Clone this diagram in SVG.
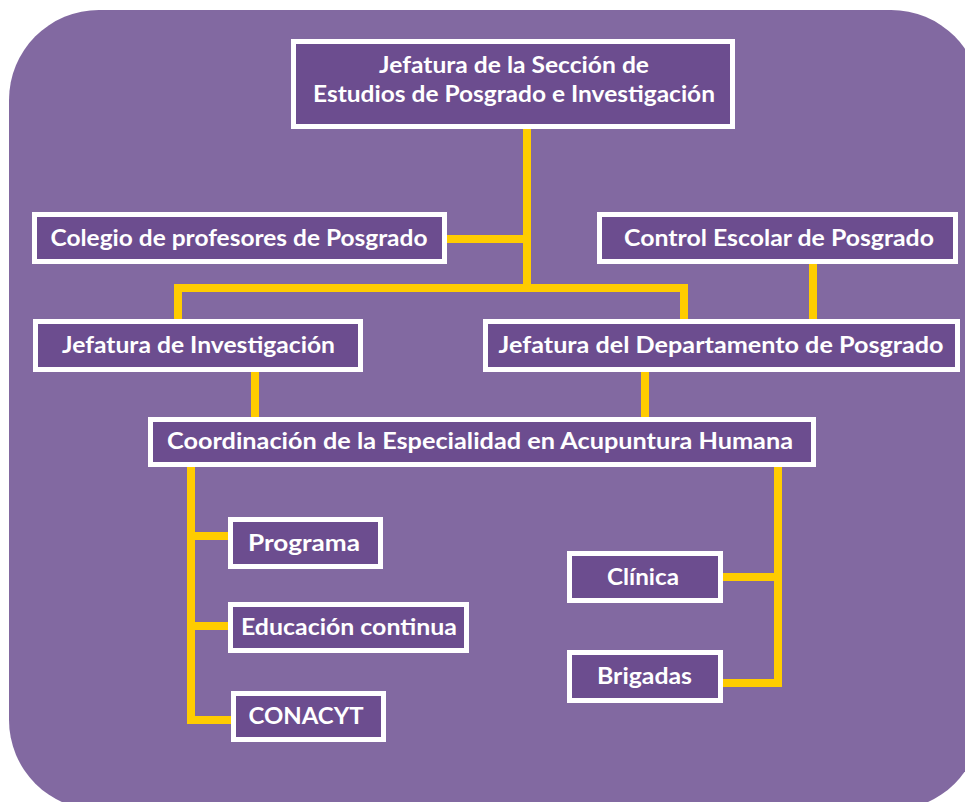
<svg xmlns="http://www.w3.org/2000/svg" width="965" height="802" viewBox="0 0 965 802">
  <style>
    .bg { fill: #8269A1; }
    .box rect { fill: #6C4D8F; stroke: #FFFFFF; stroke-width: 5; }
    .box text { fill: #FFFFFF; font-family: Lato, "Open Sans", "Liberation Sans", sans-serif; font-weight: 700; font-size: 22px; text-anchor: middle; }
    .links path { fill: none; stroke: #FFCC00; stroke-width: 8; stroke-linejoin: miter; stroke-linecap: butt; }
  </style>
  <rect width="965" height="802" fill="#FFFFFF"/>
  <rect class="bg" x="9" y="10" width="972" height="800" rx="90" ry="90"/>

  <g class="links" id="connectors">
    <path d="M527,129 V292"/>
    <path d="M447,239 H531"/>
    <path d="M178,321 V288 H684 V321"/>
    <path d="M813,264 V321"/>
    <path d="M255,372 V419"/>
    <path d="M645,372 V419"/>
    <path d="M191,467 V720 H233"/>
    <path d="M187,536 H230"/>
    <path d="M187,626 H230"/>
    <path d="M778,467 V683 H721"/>
    <path d="M782,577 H721"/>
  </g>

  <g class="box" id="jefatura-seccion">
    <rect x="293.5" y="41.5" width="439" height="85"/>
    <text x="514" y="73" textLength="270" lengthAdjust="spacingAndGlyphs">Jefatura de la Sección de</text>
    <text x="514" y="102" textLength="402" lengthAdjust="spacingAndGlyphs">Estudios de Posgrado e Investigación</text>
  </g>
  <g class="box" id="colegio-profesores">
    <rect x="34.5" y="214.5" width="410" height="47"/>
    <text x="239" y="246" textLength="377" lengthAdjust="spacingAndGlyphs">Colegio de profesores de Posgrado</text>
  </g>
  <g class="box" id="control-escolar">
    <rect x="599.5" y="214.5" width="356" height="47"/>
    <text x="779" y="246" textLength="310" lengthAdjust="spacingAndGlyphs">Control Escolar de Posgrado</text>
  </g>
  <g class="box" id="jefatura-investigacion">
    <rect x="35.5" y="321.5" width="325" height="48"/>
    <text x="198.5" y="353" textLength="273" lengthAdjust="spacingAndGlyphs">Jefatura de Investigación</text>
  </g>
  <g class="box" id="jefatura-departamento">
    <rect x="485.5" y="321.5" width="472" height="48"/>
    <text x="721" y="353" textLength="445" lengthAdjust="spacingAndGlyphs">Jefatura del Departamento de Posgrado</text>
  </g>
  <g class="box" id="coordinacion">
    <rect x="150.5" y="419.5" width="663" height="45"/>
    <text x="480" y="449" textLength="626" lengthAdjust="spacingAndGlyphs">Coordinación de la Especialidad en Acupuntura Humana</text>
  </g>
  <g class="box" id="programa">
    <rect x="230.5" y="519.5" width="150" height="47"/>
    <text x="304" y="551" textLength="112" lengthAdjust="spacingAndGlyphs">Programa</text>
  </g>
  <g class="box" id="educacion-continua">
    <rect x="230.5" y="604.5" width="236" height="46"/>
    <text x="349" y="635" textLength="216" lengthAdjust="spacingAndGlyphs">Educación continua</text>
  </g>
  <g class="box" id="conacyt">
    <rect x="233.5" y="693.5" width="150" height="46"/>
    <text x="306" y="724" textLength="115" lengthAdjust="spacingAndGlyphs">CONACYT</text>
  </g>
  <g class="box" id="clinica">
    <rect x="569.5" y="553.5" width="151" height="47"/>
    <text x="643" y="585" textLength="72" lengthAdjust="spacingAndGlyphs">Clínica</text>
  </g>
  <g class="box" id="brigadas">
    <rect x="569.5" y="652.5" width="151" height="48"/>
    <text x="644.5" y="684" textLength="95" lengthAdjust="spacingAndGlyphs">Brigadas</text>
  </g>
</svg>
